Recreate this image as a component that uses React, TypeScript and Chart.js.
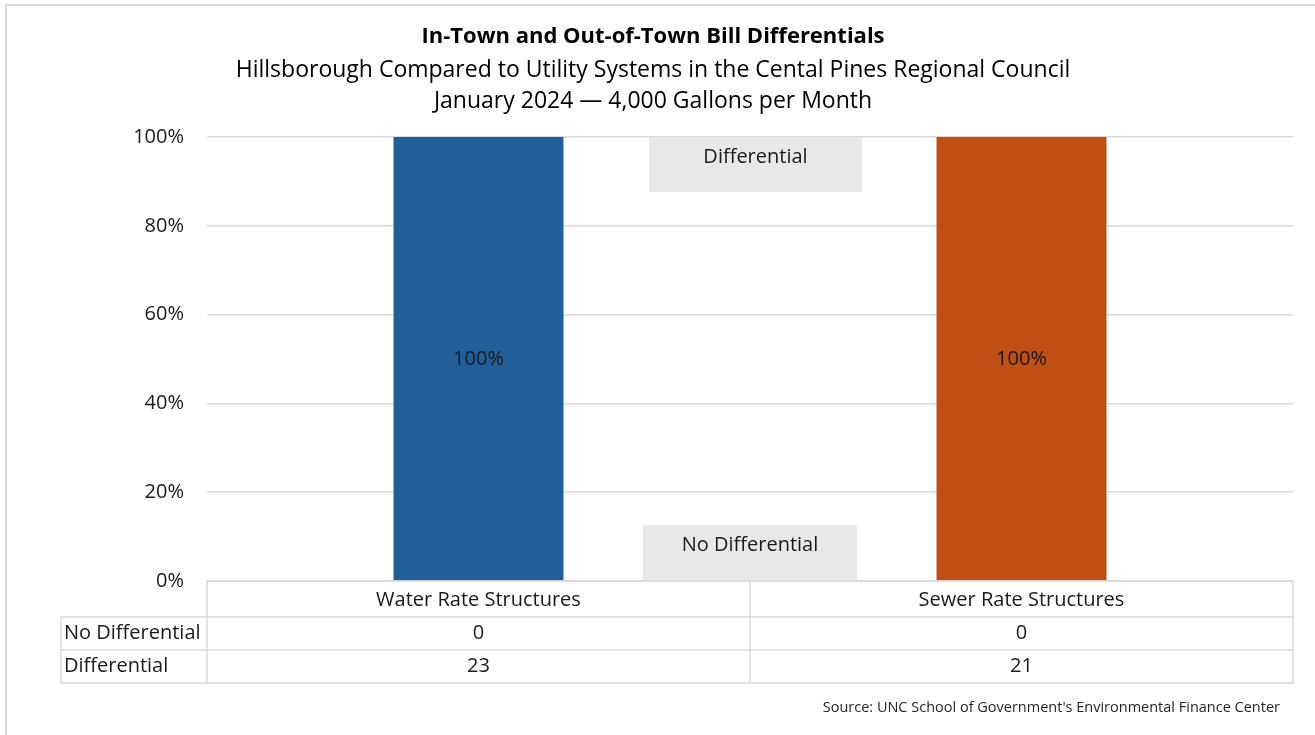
import React, { useEffect, useRef } from "react";
import { Chart, registerables } from "chart.js";

Chart.register(...registerables);

const categories = ["Water Rate Structures", "Sewer Rate Structures"];
const seriesNames = ["No Differential", "Differential"];
const noDifferential = [0, 0];
const differential = [23, 21];
const barColors = ["#215F9A", "#C04F15"];
const yTickValues = [0, 20, 40, 60, 80, 100];
const titleLines = [
  "In-Town and Out-of-Town Bill Differentials",
  "Hillsborough Compared to Utility Systems in the Cental Pines Regional Council",
  "January 2024 \u2014 4,000 Gallons per Month",
];
const sourceText = "Source: UNC School of Government's Environmental Finance Center";

const FONT = "'Open Sans', 'Noto Sans', sans-serif";
const GRID = "#D9D9D9";
const TEXT = "#1A1A1A";

const totals = categories.map((_, i) => noDifferential[i] + differential[i]);
const pct = (arr: number[]) => arr.map((v, i) => (totals[i] ? (v / totals[i]) * 100 : 0));

const decorPlugin = {
  id: "decor",
  beforeDraw(chart: any) {
    const { ctx, width, height } = chart;
    ctx.save();
    ctx.fillStyle = "#FFFFFF";
    ctx.fillRect(0, 0, width, height);
    ctx.strokeStyle = GRID;
    ctx.lineWidth = 2;
    ctx.beginPath();
    ctx.moveTo(6, height + 5);
    ctx.lineTo(6, 5);
    ctx.lineTo(width + 5, 5);
    ctx.stroke();
    ctx.restore();
  },
  afterDraw(chart: any) {
    const { ctx, chartArea } = chart;
    const xs = chart.scales.x;
    const ys = chart.scales.y;
    ctx.save();
    // titles
    ctx.textAlign = "center";
    ctx.textBaseline = "middle";
    ctx.fillStyle = "#000000";
    const cx = 653;
    ctx.font = `bold 22px ${FONT}`;
    ctx.fillText(titleLines[0], cx, 37);
    ctx.font = `23px ${FONT}`;
    ctx.fillText(titleLines[1], cx, 70);
    ctx.fillText(titleLines[2], cx, 101);

    // annotation boxes
    const top = ys.getPixelForValue(100);
    const bottom = ys.getPixelForValue(0);
    ctx.fillStyle = "#E8E8E8";
    ctx.fillRect(649, top, 213, 55);
    ctx.fillRect(643, bottom - 56, 214, 56);
    ctx.fillStyle = TEXT;
    ctx.font = `20px ${FONT}`;
    ctx.fillText(seriesNames[1], 755.5, top + 20);
    ctx.fillText(seriesNames[0], 750, bottom - 36);

    // data table
    const left = chartArea.left;
    const right = chartArea.right;
    const c0 = xs.getPixelForValue(0);
    const c1 = xs.getPixelForValue(1);
    const mid = (c0 + c1) / 2;
    const tTop = bottom;
    const r1 = tTop + 36;
    const r2 = r1 + 33;
    const r3 = r2 + 33;
    const hdrLeft = 61;
    ctx.strokeStyle = GRID;
    ctx.lineWidth = 1.5;
    ctx.beginPath();
    [left, mid, right].forEach((x) => {
      ctx.moveTo(x, tTop);
      ctx.lineTo(x, r3);
    });
    ctx.moveTo(hdrLeft, r1);
    ctx.lineTo(hdrLeft, r3);
    [r1, r2, r3].forEach((y) => {
      ctx.moveTo(hdrLeft, y);
      ctx.lineTo(right, y);
    });
    ctx.moveTo(left, tTop);
    ctx.lineTo(right, tTop);
    ctx.stroke();

    ctx.fillStyle = TEXT;
    ctx.font = `20px ${FONT}`;
    ctx.textAlign = "center";
    const centers = [c0, c1];
    categories.forEach((c, i) => ctx.fillText(c, centers[i], (tTop + r1) / 2 + 1));
    noDifferential.forEach((v, i) => ctx.fillText(String(v), centers[i], (r1 + r2) / 2));
    differential.forEach((v, i) => ctx.fillText(String(v), centers[i], (r2 + r3) / 2));
    ctx.textAlign = "left";
    ctx.fillText(seriesNames[0], 64, (r1 + r2) / 2);
    ctx.fillText(seriesNames[1], 64, (r2 + r3) / 2);

    // source
    ctx.textAlign = "right";
    ctx.font = `14.5px ${FONT}`;
    ctx.fillStyle = "#262626";
    ctx.fillText(sourceText, 1280, 708);
    ctx.restore();
  },
  afterDatasetsDraw(chart: any) {
    const { ctx } = chart;
    ctx.save();
    ctx.font = `20px ${FONT}`;
    ctx.fillStyle = TEXT;
    ctx.textAlign = "center";
    ctx.textBaseline = "middle";
    chart.data.datasets.forEach((ds: any, di: number) => {
      const meta = chart.getDatasetMeta(di);
      meta.data.forEach((el: any, i: number) => {
        const v = ds.data[i];
        if (!v) return;
        const y = (el.y + el.base) / 2;
        ctx.fillText(`${Math.round(v)}%`, el.x, y + 1);
      });
    });
    ctx.restore();
  },
};

export default function App() {
  const ref = useRef<HTMLCanvasElement | null>(null);
  useEffect(() => {
    document.body.style.margin = "0";
    if (!ref.current) return;
    const chart = new Chart(ref.current, {
      type: "bar",
      data: {
        labels: categories,
        datasets: [
          {
            label: seriesNames[0],
            data: pct(noDifferential),
            backgroundColor: "#A5A5A5",
            categoryPercentage: 1,
            barPercentage: 0.313,
          },
          {
            label: seriesNames[1],
            data: pct(differential),
            backgroundColor: barColors,
            categoryPercentage: 1,
            barPercentage: 0.313,
          },
        ],
      },
      options: {
        responsive: false,
        animation: false,
        layout: { padding: { left: 0, right: 22, top: 137, bottom: 154 } },
        plugins: {
          legend: { display: false },
          title: { display: false },
          tooltip: { enabled: false },
        },
        scales: {
          x: { stacked: true, display: false },
          y: {
            stacked: true,
            min: 0,
            max: 100,
            afterFit: (s: any) => {
              s.width = 207;
            },
            afterBuildTicks: (s: any) => {
              s.ticks = yTickValues.map((v) => ({ value: v }));
            },
            border: { display: false },
            grid: { color: GRID, lineWidth: 1.5, drawTicks: false },
            ticks: {
              padding: 23,
              color: TEXT,
              font: { family: FONT, size: 20 },
              callback: (v: any) => `${v}%`,
            },
          },
        },
      },
      plugins: [decorPlugin],
    });
    return () => chart.destroy();
  }, []);
  return (
    <div style={{ width: 1315, height: 735 }}>
      <canvas ref={ref} width={1315} height={735} style={{ display: "block", width: 1315, height: 735 }} />
    </div>
  );
}
